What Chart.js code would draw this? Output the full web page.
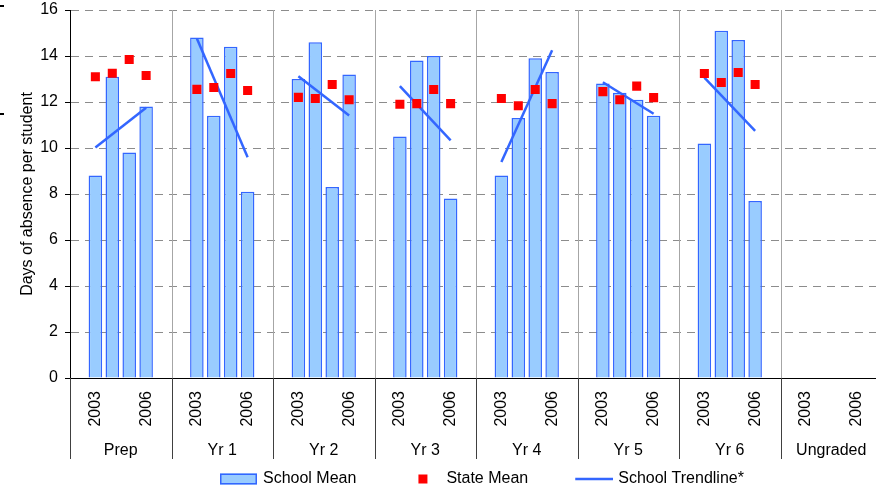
<!DOCTYPE html>
<html>
<head>
<meta charset="utf-8">
<script src="https://cdn.jsdelivr.net/npm/chart.js@4.4.1/dist/chart.umd.min.js"></script>
<style>
html,body{margin:0;padding:0;overflow:hidden;background:#fff;width:876px;height:488px}
#wrap{width:882px;height:488px}
canvas{display:block}
</style>
</head>
<body>
<div id="wrap"><canvas id="c" width="882" height="488"></canvas></div>
<script>
// ---- data ----
const groups = ['Prep', 'Yr 1', 'Yr 2', 'Yr 3', 'Yr 4', 'Yr 5', 'Yr 6', 'Ungraded'];
const years = ['2003', '2004', '2005', '2006'];
const yearTickLabels = ['2003', '', '', '2006'];
const yTicks = [0, 2, 4, 6, 8, 10, 12, 14, 16];
const schoolMean = [
  8.8, 13.1, 9.8, 11.8,
  14.8, 11.4, 14.4, 8.1,
  13.0, 14.6, 8.3, 13.2,
  10.5, 13.8, 14.0, 7.8,
  8.8, 11.3, 13.9, 13.3,
  12.8, 12.4, 12.1, 11.4,
  10.2, 15.1, 14.7, 7.7,
  null, null, null, null
];
const stateMean = [
  13.1, 13.25, 13.85, 13.15,
  12.55, 12.63, 13.24, 12.5,
  12.2, 12.15, 12.76, 12.1,
  11.9, 11.93, 12.54, 11.93,
  12.15, 11.84, 12.54, 11.93,
  12.45, 12.1, 12.69, 12.19,
  13.24, 12.85, 13.28, 12.76,
  null, null, null, null
];
const trendStart = [10.02, 14.76, 13.12, 12.69, 9.39, 12.86, 13.06, null];
const trendEnd = [11.75, 9.6, 11.41, 10.33, 14.25, 11.49, 10.74, null];

// ---- build slot tables (each group: gap, 4 years, gap) ----
const SLOTS = years.length + 2;
const slotLabels = [], barData = [], stateData = [], trendData = [];
groups.forEach((g, gi) => {
  slotLabels.push('');
  barData.push(null); stateData.push(null); trendData.push(null);
  years.forEach((y, yi) => {
    slotLabels.push(yearTickLabels[yi]);
    barData.push(schoolMean[gi * years.length + yi]);
    stateData.push(stateMean[gi * years.length + yi]);
    trendData.push(yi === 0 ? trendStart[gi] : (yi === years.length - 1 ? trendEnd[gi] : null));
  });
  slotLabels.push('');
  barData.push(null); stateData.push(null); trendData.push(null);
});

const FONT = { family: "'Liberation Sans', Arial, sans-serif", size: 16 };
const BLUE = '#3366ff', LIGHT = '#99ccff', RED = '#ff0000';

function icon(w, h, draw) {
  const c = document.createElement('canvas');
  c.width = w; c.height = h;
  draw(c.getContext('2d'));
  return c;
}
const iconBar = icon(84, 12, g => {
  g.fillStyle = LIGHT; g.fillRect(46, 0.5, 37, 11);
  g.strokeStyle = BLUE; g.lineWidth = 1.5; g.strokeRect(46.75, 1.25, 35.5, 9.5);
});
const iconState = icon(84, 12, g => { g.fillStyle = RED; g.fillRect(61, 1.5, 9, 9); });
const iconTrend = icon(84, 12, g => {
  g.strokeStyle = BLUE; g.lineWidth = 2.5; g.beginPath(); g.moveTo(46, 6); g.lineTo(84, 6); g.stroke();
});
const legendIcons = [iconBar, iconState, iconTrend];

const groupSeparators = {
  id: 'groupSeparators',
  beforeDatasetsDraw(chart) {
    const { ctx, chartArea, scales: { x, x2 } } = chart;
    const n = groups.length;
    ctx.save();
    ctx.lineWidth = 1;
    for (let g = 0; g <= n; g++) {
      const px = Math.round(x.left + (x.right - x.left) * g / n) + 0.5;
      ctx.beginPath();
      if (g > 0 && g < n) {
        ctx.strokeStyle = '#a6a6a6';
        ctx.moveTo(px, chartArea.top); ctx.lineTo(px, chartArea.bottom);
        ctx.stroke();
        ctx.beginPath();
      }
      ctx.strokeStyle = '#404040';
      ctx.moveTo(px, x.top); ctx.lineTo(px, x2.top + 24);
      ctx.stroke();
    }
    // small page marks at the left edge
    ctx.fillStyle = '#000';
    ctx.fillRect(0, 5, 4, 2);
    ctx.fillRect(0, 113, 4, 2);
    ctx.restore();
  }
};

const legendShift = {
  id: 'legendShift',
  afterLayout(chart) { if (chart.legend) chart.legend.left = 173; }
};

const noPad = s => { s.paddingTop = 0; s.paddingBottom = 0; s.paddingLeft = 0; s.paddingRight = 0; };

new Chart(document.getElementById('c'), {
  data: {
    labels: slotLabels,
    datasets: [
      {
        type: 'line', label: 'State Mean', data: stateData, showLine: false,
        pointStyle: 'rect', pointRadius: 6.4, pointBorderWidth: 0, borderWidth: 0,
        backgroundColor: RED, borderColor: RED, order: 0
      },
      {
        type: 'line', label: 'School Trendline*', data: trendData, spanGaps: true,
        pointRadius: 0, borderColor: BLUE, borderWidth: 2.5, fill: false, order: 1,
        segment: { borderColor: c => (c.p1DataIndex % SLOTS === 1) ? 'rgba(0,0,0,0)' : BLUE }
      },
      {
        type: 'bar', label: 'School Mean', data: barData,
        backgroundColor: LIGHT, borderColor: BLUE, borderWidth: 1.5,
        barPercentage: 0.8, categoryPercentage: 1, order: 2
      }
    ]
  },
  options: {
    responsive: false,
    animation: false,
    devicePixelRatio: 1,
    events: [],
    layout: { autoPadding: false, padding: { top: 10, left: 0, right: 0, bottom: 0 } },
    scales: {
      x: {
        type: 'category', offset: true,
        grid: { display: false, drawTicks: false },
        border: { display: true, color: '#000', width: 1 },
        ticks: { autoSkip: false, minRotation: 90, maxRotation: 90, padding: 13, font: FONT, color: '#000' },
        afterFit: s => { s.height = 57; noPad(s); }
      },
      x2: {
        type: 'category', labels: groups, position: 'bottom', offset: true, weight: 1,
        grid: { display: false, drawTicks: false },
        border: { display: false },
        ticks: { autoSkip: false, maxRotation: 0, padding: 6, font: FONT, color: '#000' },
        afterFit: s => { s.height = 32; noPad(s); }
      },
      y: {
        min: 0, max: 16,
        afterBuildTicks: s => { s.ticks = yTicks.map(v => ({ value: v })); },
        ticks: { padding: 7, font: FONT, color: '#000' },
        grid: {
          color: c => (c.tick && c.tick.value === 0) ? 'rgba(0,0,0,0)' : '#8c8c8c',
          tickColor: '#000', tickLength: 5, tickBorderDash: [], lineWidth: 1
        },
        border: { display: true, color: '#000', width: 1, dash: [8, 6] },
        title: { display: true, text: 'Days of absence per student', font: FONT, color: '#000', padding: { top: 18, bottom: 0 } },
        afterFit: s => { s.width = 70; noPad(s); }
      }
    },
    plugins: {
      tooltip: { enabled: false },
      legend: {
        position: 'bottom', align: 'start', maxHeight: 21,
        labels: {
          usePointStyle: true, boxWidth: 78, pointStyleWidth: 78, padding: 4,
          font: FONT, color: '#000',
          generateLabels: chart => {
            const order = [2, 0, 1];
            return order.map((di, k) => ({
              text: chart.data.datasets[di].label,
              datasetIndex: di,
              pointStyle: legendIcons[k],
              fillStyle: 'rgba(0,0,0,0)', strokeStyle: 'rgba(0,0,0,0)', lineWidth: 0,
              fontColor: '#000', hidden: false
            }));
          }
        }
      }
    }
  },
  plugins: [groupSeparators, legendShift]
});
</script>
</body>
</html>
